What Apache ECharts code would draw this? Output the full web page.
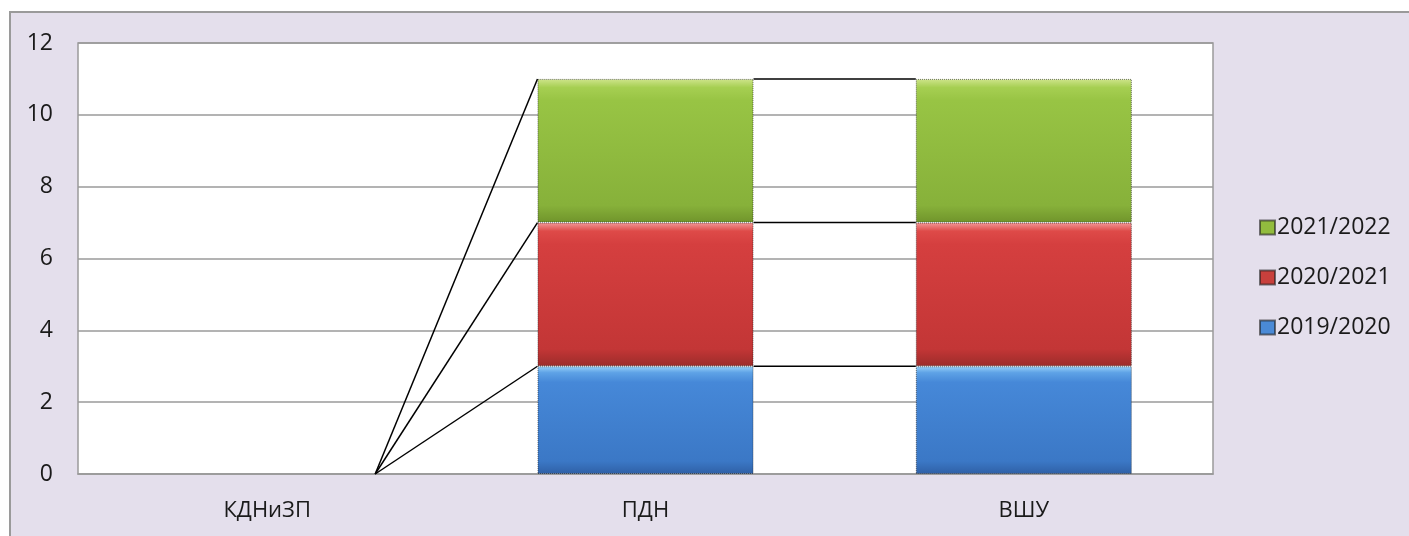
<!DOCTYPE html>
<html>
<head>
<meta charset="utf-8">
<script src="https://cdn.jsdelivr.net/npm/echarts@6/dist/echarts.min.js"></script>
<style>
  html, body { margin: 0; padding: 0; background: #ffffff; overflow: hidden; }
  #bg { position: absolute; left: 9px; top: 11px; width: 1500px; height: 600px;
        background: #E4DFEC; border-left: 2px solid #9a9a9a; border-top: 2px solid #9a9a9a; }
  #chart { position: absolute; left: 0; top: 0; width: 1409px; height: 536px; }
</style>
</head>
<body>
<div id="bg"></div>
<div id="chart"></div>
<script>
const categories = ['КДНиЗП', 'ПДН', 'ВШУ'];
const seriesNames = ['2019/2020', '2020/2021', '2021/2022'];
const values2019 = [0, 3, 3];
const values2020 = [0, 4, 4];
const values2021 = [0, 4, 4];
const yTicks = [0, 2, 4, 6, 8, 10, 12];

const allValues = [values2019, values2020, values2021];
const BAR_RATIO = 0.571;

function grad(top, hi, mid1, mid2, bottom) {
  return new echarts.graphic.LinearGradient(0, 0, 0, 1, [
    { offset: 0, color: top },
    { offset: 0.06, color: hi },
    { offset: 0.15, color: mid1 },
    { offset: 0.88, color: mid2 },
    { offset: 1, color: bottom }
  ]);
}
const colors = [
  grad('#9ad2f8', '#5ea2e6', '#4688d8', '#3b78c6', '#2f60a6'),
  grad('#f39a98', '#de4a48', '#d53f3f', '#c33636', '#9c2c2a'),
  grad('#cfe58c', '#a6cf52', '#98c444', '#87b13a', '#70942b')
];
const legendColors = ['#4a8ad6', '#c8403c', '#92bc3e'];

// cumulative tops of each stack level per category
const cumulative = allValues.map((_, level) =>
  categories.map((c, i) => allValues.slice(0, level + 1).reduce((s, arr) => s + arr[i], 0))
);

const barSeries = seriesNames.map((name, k) => ({
  name: name,
  type: 'bar',
  stack: 'total',
  barWidth: (BAR_RATIO * 100) + '%',
  data: allValues[k].map(v => ({
    value: v,
    itemStyle: v > 0 ? {} : { borderWidth: 0, opacity: 0 }
  })),
  color: legendColors[k],
  itemStyle: {
    color: colors[k],
    borderColor: 'rgba(30,30,30,0.6)',
    borderWidth: 1,
    borderType: 'dotted'
  },
  emphasis: { disabled: true }
}));

const seriesLines = {
  type: 'custom',
  name: 'series-lines',
  data: categories.slice(0, categories.length - 1).map((c, i) => [i]),
  renderItem: function (params, api) {
    const i = api.value(0);
    const half = api.size([1, 0])[0] * BAR_RATIO / 2;
    const children = cumulative.map(levelArr => {
      const p1 = api.coord([i, levelArr[i]]);
      const p2 = api.coord([i + 1, levelArr[i + 1]]);
      return {
        type: 'line',
        shape: { x1: p1[0] + half, y1: p1[1], x2: p2[0] - half, y2: p2[1] },
        style: { stroke: '#000', lineWidth: 1.5 }
      };
    });
    return { type: 'group', children: children };
  },
  z: 5,
  silent: true
};

const chart = echarts.init(document.getElementById('chart'), null, { renderer: 'canvas' });
chart.setOption({
  backgroundColor: 'transparent',
  animation: false,
  textStyle: { fontFamily: 'Open Sans' },
  grid: {
    left: 78, top: 43, width: 1135, height: 431,
    show: true, backgroundColor: '#ffffff', borderColor: '#9a9a9a', borderWidth: 1.5,
    containLabel: false
  },
  legend: {
    orient: 'vertical',
    left: 1254,
    top: 211,
    itemGap: 27,
    itemWidth: 15,
    itemHeight: 14,
    icon: 'rect',
    data: seriesNames.slice().reverse().map((n, idx) => ({
      name: n,
      itemStyle: { color: legendColors[seriesNames.length - 1 - idx] }
    })),
    textStyle: { fontFamily: 'Open Sans', fontSize: 23, color: '#1a1a1a', padding: [0, 0, 0, -3] }
  },
  xAxis: {
    type: 'category',
    data: categories,
    axisLine: { show: true, lineStyle: { color: '#9a9a9a', width: 1.5 } },
    axisTick: { show: false },
    axisLabel: { fontFamily: 'Open Sans', fontSize: 22, color: '#1a1a1a', margin: 26 },
    splitLine: { show: false }
  },
  yAxis: {
    type: 'value',
    min: 0, max: 12, interval: 2,
    axisLine: { show: false },
    axisTick: { show: false },
    axisLabel: {
      fontFamily: 'Open Sans', fontSize: 23, color: '#1a1a1a', margin: 25,
      formatter: v => yTicks.includes(v) ? String(v) : ''
    },
    splitLine: { show: true, lineStyle: { color: '#9a9a9a', width: 1.5 } }
  },
  series: barSeries.concat([seriesLines])
});
</script>
</body>
</html>
